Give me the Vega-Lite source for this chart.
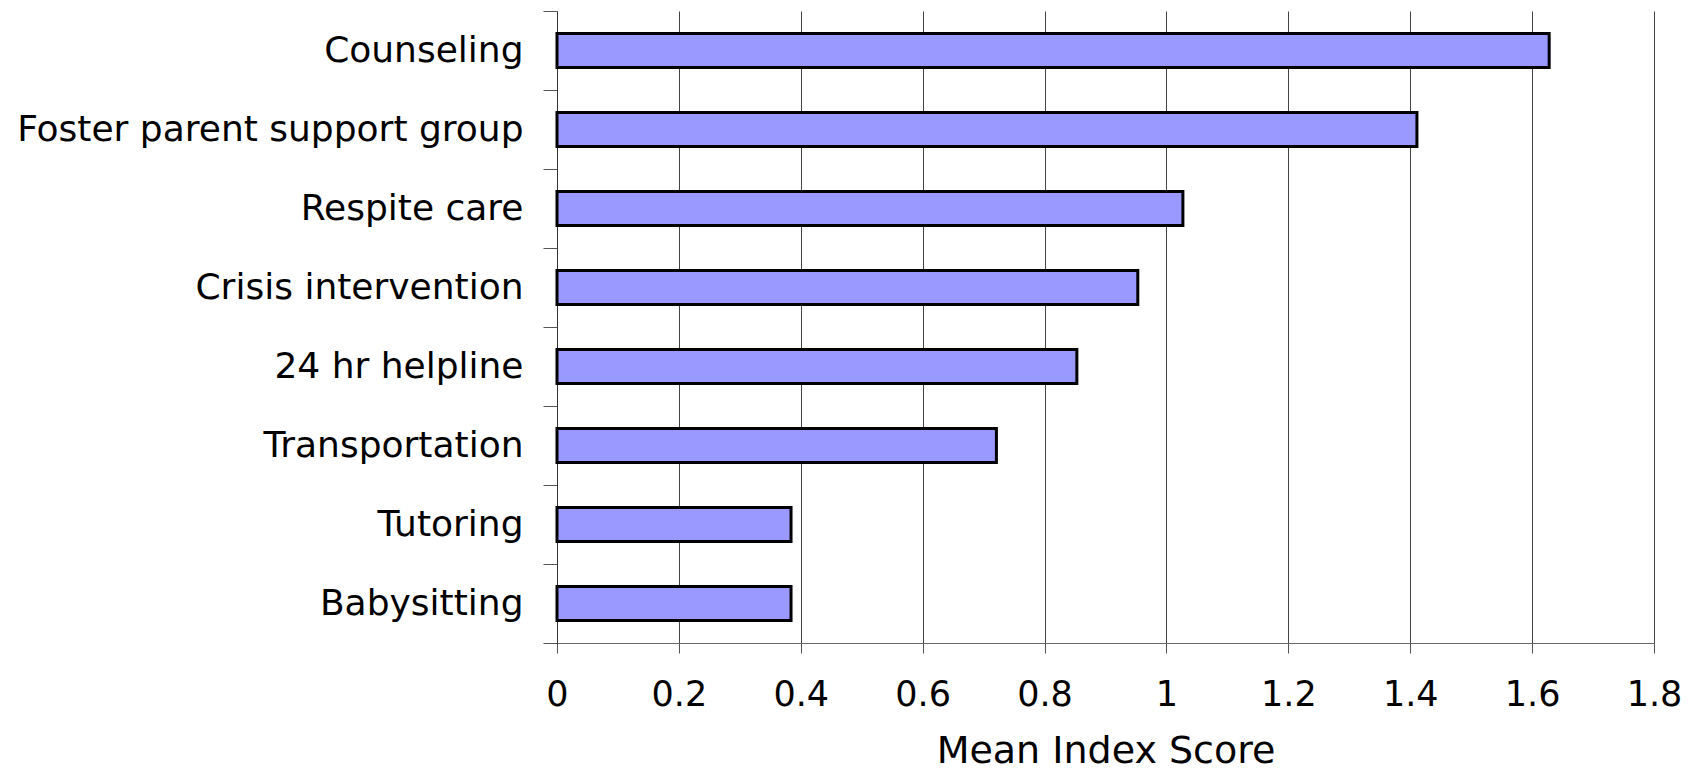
{
  "$schema": "https://vega.github.io/schema/vega-lite/v6.json",
  "width": 1097,
  "height": 632,
  "autosize": {"type": "none"},
  "padding": {"left": 557, "top": 11, "right": 54, "bottom": 130},
  "background": "white",
  "data": {
    "values": [
      {"service": "Counseling", "score": 1.628},
      {"service": "Foster parent support group", "score": 1.411},
      {"service": "Respite care", "score": 1.027},
      {"service": "Crisis intervention", "score": 0.953},
      {"service": "24 hr helpline", "score": 0.853},
      {"service": "Transportation", "score": 0.721},
      {"service": "Tutoring", "score": 0.384},
      {"service": "Babysitting", "score": 0.384}
    ]
  },
  "mark": {
    "type": "bar",
    "height": {"band": 0.43},
    "fill": "#9999FF",
    "stroke": "#000000",
    "strokeWidth": 3
  },
  "encoding": {
    "y": {
      "field": "service",
      "type": "nominal",
      "sort": null,
      "scale": {"paddingInner": 0, "paddingOuter": 0},
      "axis": {
        "title": null,
        "tickBand": "extent",
        "tickSize": 14,
        "tickColor": "#555555",
        "domainColor": "#333333",
        "labelFont": "DejaVu Sans",
        "labelFontSize": 36,
        "labelColor": "#000000",
        "labelPadding": 20,
        "labelLimit": 600,
        "grid": false
      }
    },
    "x": {
      "field": "score",
      "type": "quantitative",
      "scale": {"domain": [0, 1.8], "nice": false},
      "axis": {
        "title": "Mean Index Score",
        "values": [0, 0.2, 0.4, 0.6, 0.8, 1, 1.2, 1.4, 1.6, 1.8],
        "format": "~g",
        "grid": true,
        "gridColor": "#444444",
        "gridOpacity": 1,
        "gridWidth": 1,
        "tickSize": 10,
        "tickColor": "#555555",
        "domainColor": "#666666",
        "labelFont": "DejaVu Sans",
        "labelFontSize": 35,
        "labelColor": "#000000",
        "labelPadding": 24,
        "labelFlush": false,
        "titleFont": "DejaVu Sans",
        "titleFontSize": 38,
        "titleFontWeight": "normal",
        "titleColor": "#000000",
        "titlePadding": 20
      }
    }
  },
  "config": {"view": {"stroke": null}}
}
